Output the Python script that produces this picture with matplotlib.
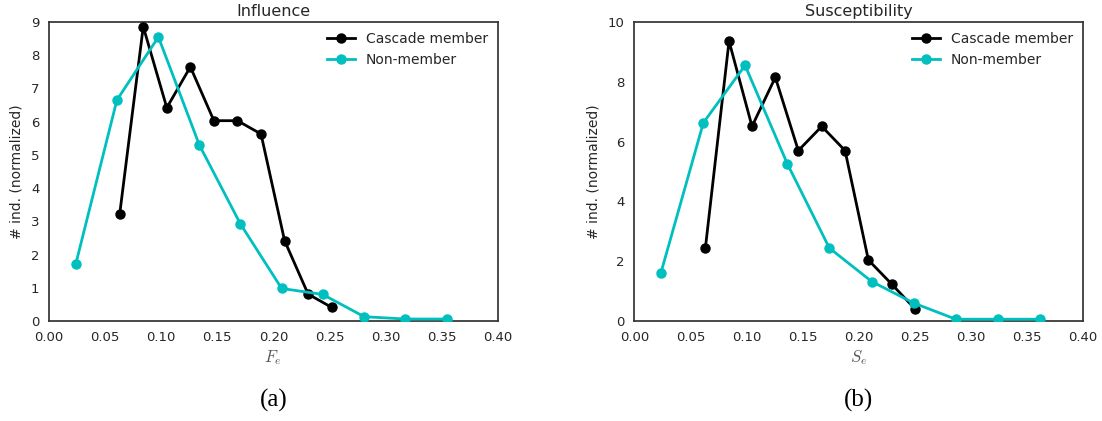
import matplotlib
matplotlib.use("Agg")
import matplotlib.pyplot as plt

# Influence panel (a)
infl_member_x = [0.063, 0.084, 0.105, 0.126, 0.147, 0.168, 0.189, 0.210, 0.231, 0.252]
infl_member_y = [3.22, 8.86, 6.42, 7.65, 6.03, 6.03, 5.63, 2.42, 0.81, 0.41]
infl_non_x = [0.0238, 0.0605, 0.0975, 0.134, 0.1705, 0.2074, 0.244, 0.281, 0.3176, 0.3545]
infl_non_y = [1.71, 6.65, 8.55, 5.30, 2.93, 0.98, 0.80, 0.13, 0.06, 0.06]

# Susceptibility panel (b)
sus_member_x = [0.0634, 0.0845, 0.105, 0.1258, 0.1463, 0.1672, 0.188, 0.2088, 0.2297, 0.2505]
sus_member_y = [2.44, 9.36, 6.51, 8.15, 5.70, 6.51, 5.70, 2.04, 1.23, 0.40]
sus_non_x = [0.0238, 0.0616, 0.0988, 0.1365, 0.174, 0.2118, 0.2493, 0.2868, 0.3243, 0.3617]
sus_non_y = [1.62, 6.63, 8.55, 5.26, 2.44, 1.32, 0.60, 0.06, 0.06, 0.06]

x_ticks = [0.00, 0.05, 0.10, 0.15, 0.20, 0.25, 0.30, 0.35, 0.40]

plt.rcParams["font.family"] = "DejaVu Sans"
plt.rcParams["mathtext.fontset"] = "cm"
text_color = "#262626"

fig = plt.figure(figsize=(11.02, 4.21), dpi=100)
ax1 = fig.add_axes([0.0445, 0.2375, 0.4071, 0.7102])
ax2 = fig.add_axes([0.5756, 0.2375, 0.4069, 0.7102])

panels = [
    (ax1, "Influence", r"$F_e$", infl_member_x, infl_member_y, infl_non_x, infl_non_y,
     (0, 9), list(range(0, 10)), "(a)"),
    (ax2, "Susceptibility", r"$S_e$", sus_member_x, sus_member_y, sus_non_x, sus_non_y,
     (0, 10), list(range(0, 11, 2)), "(b)"),
]

for ax, title, xlabel, mx, my, nx, ny, ylim, yticks, tag in panels:
    ax.plot(mx, my, "-o", color="black", lw=2, ms=6.5, label="Cascade member", zorder=3)
    ax.plot(nx, ny, "-o", color="#00BFBF", lw=2, ms=6.5, label="Non-member", zorder=3)
    ax.set_xlim(0, 0.40)
    ax.set_ylim(*ylim)
    ax.set_xticks(x_ticks)
    ax.set_xticklabels([f"{t:.2f}" for t in x_ticks])
    ax.set_yticks(yticks)
    ax.tick_params(length=0, labelsize=9.5, colors=text_color)
    ax.tick_params(axis="x", pad=7)
    ax.tick_params(axis="y", pad=7)
    for sp in ax.spines.values():
        sp.set_color("#333333")
        sp.set_linewidth(1.25)
    ax.set_title(title, fontsize=11.5, color=text_color, pad=4)
    ax.set_ylabel("# ind. (normalized)", fontsize=10, color=text_color, labelpad=5)
    ax.set_xlabel(xlabel, fontsize=12, color="#555555", labelpad=3)
    leg = ax.legend(loc="upper right", frameon=False, fontsize=10, handlelength=2.0,
                    borderaxespad=0.3, labelspacing=0.5)
    for t in leg.get_texts():
        t.set_color(text_color)
    ax.text(0.5, -0.265, tag, transform=ax.transAxes, ha="center", va="center",
            fontsize=18, family="Liberation Serif", color="black")

fig.savefig("out.png", dpi=100)
